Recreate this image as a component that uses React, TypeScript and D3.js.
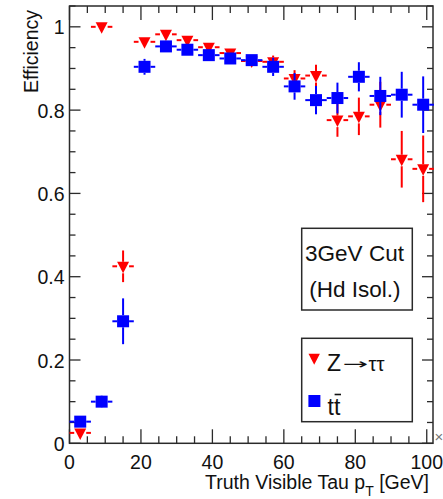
import React from "react";
import * as d3 from "d3";

const binCenters = [3, 9, 15, 21, 27, 33, 39, 45, 51, 57, 63, 69, 75, 81, 87, 93, 99];
const binHalfWidth = 3;
const zValues = [0.025, 1.0, 0.425, 0.964, 0.982, 0.968, 0.951, 0.937, 0.918, 0.916, 0.876, 0.883, 0.776, 0.785, 0.813, 0.682, 0.659];
const zErrors = [0.005, 0.0, 0.038, 0.008, 0.006, 0.008, 0.008, 0.01, 0.012, 0.015, 0.02, 0.026, 0.04, 0.045, 0.055, 0.068, 0.08];
const ttValues = [0.052, 0.1, 0.293, 0.904, 0.953, 0.945, 0.932, 0.924, 0.92, 0.904, 0.857, 0.824, 0.829, 0.88, 0.834, 0.837, 0.813];
const ttErrors = [0.008, 0.015, 0.055, 0.019, 0.012, 0.012, 0.012, 0.012, 0.014, 0.022, 0.032, 0.034, 0.037, 0.035, 0.046, 0.055, 0.068];
const xTickLabels = ["0", "20", "40", "60", "80", "100"];
const yTickLabels = ["0", "0.2", "0.4", "0.6", "0.8", "1"];
const legendTitle = ["3GeV Cut", "(Hd Isol.)"];

const W = 443;
const H = 499;
const left = 69.5, right = 433, top = 6, bottom = 443.3;
const FONT = "'Liberation Sans', Arial, Helvetica, sans-serif";
const AX = "#2a2a2a";

export default function App() {
  const x = d3.scaleLinear().domain([0, 101.75]).range([left, right]);
  const y = d3.scaleLinear().domain([0, 1.05]).range([bottom, top]);

  const xMajor = xTickLabels.map(Number);
  const xMinor = d3.range(0, 101, 5).filter((v) => !xMajor.includes(v));
  const yMajor = yTickLabels.map(Number);
  const yMinor = d3.range(0, 1.051, 0.05).map((v) => +v.toFixed(2)).filter((v) => !yMajor.includes(v));

  const sq = 6;
  const triTop = 4.5, triTip = 7, triHalf = 6;
  const triPath = (cx: number, cy: number, s = 1) =>
    `M${cx - triHalf * s},${cy - triTop * s}L${cx + triHalf * s},${cy - triTop * s}L${cx},${cy + triTip * s}Z`;

  const errBars = (vals: number[], errs: number[], color: string, gapUp: number, gapDown: number, gapX: number) =>
    binCenters.map((c, i) => {
      const cx = x(c), cy = y(vals[i]);
      const x0 = x(c - binHalfWidth), x1 = x(c + binHalfWidth);
      const yTop = y(vals[i] + errs[i]), yBot = y(vals[i] - errs[i]);
      return (
        <g key={`${color}-e-${i}`} stroke={color} strokeWidth={2}>
          {x0 < cx - gapX && <line x1={x0} x2={cx - gapX} y1={cy} y2={cy} />}
          {x1 > cx + gapX && <line x1={cx + gapX} x2={x1} y1={cy} y2={cy} />}
          {yTop < cy - gapUp && <line x1={cx} x2={cx} y1={yTop} y2={cy - gapUp} />}
          {yBot > cy + gapDown && <line x1={cx} x2={cx} y1={cy + gapDown} y2={yBot} />}
        </g>
      );
    });

  return (
    <svg width={W} height={H} style={{ position: "fixed", left: 0, top: 0, background: "#fff" }} fontFamily={FONT}>
      <rect x={0} y={0} width={W} height={H} fill="#fff" />
      {/* frame */}
      <rect x={left} y={top} width={right - left} height={bottom - top} fill="none" stroke={AX} strokeWidth={1.5} />
      {/* x ticks bottom & top */}
      {xMajor.map((v) => (
        <g key={`xM${v}`} stroke={AX} strokeWidth={1.3}>
          <line x1={x(v)} x2={x(v)} y1={bottom} y2={bottom - 14} />
          <line x1={x(v)} x2={x(v)} y1={top} y2={top + 14} />
        </g>
      ))}
      {xMinor.map((v) => (
        <g key={`xm${v}`} stroke={AX} strokeWidth={1.3}>
          <line x1={x(v)} x2={x(v)} y1={bottom} y2={bottom - 7} />
          <line x1={x(v)} x2={x(v)} y1={top} y2={top + 7} />
        </g>
      ))}
      {/* y ticks left & right */}
      {yMajor.map((v) => (
        <g key={`yM${v}`} stroke={AX} strokeWidth={1.3}>
          <line x1={left} x2={left + 11} y1={y(v)} y2={y(v)} />
          <line x1={right} x2={right - 11} y1={y(v)} y2={y(v)} />
        </g>
      ))}
      {yMinor.map((v) => (
        <g key={`ym${v}`} stroke={AX} strokeWidth={1.3}>
          <line x1={left} x2={left + 6} y1={y(v)} y2={y(v)} />
          <line x1={right} x2={right - 6} y1={y(v)} y2={y(v)} />
        </g>
      ))}
      {/* tick labels */}
      {xTickLabels.map((t) => (
        <text key={`xl${t}`} x={x(Number(t))} y={468.5} fontSize={19.5} textAnchor="middle" fill="#111">
          {t}
        </text>
      ))}
      {yTickLabels.map((t) => (
        <text key={`yl${t}`} x={64.5} y={y(Number(t)) + 7.5} fontSize={19.5} textAnchor="end" fill="#111">
          {t}
        </text>
      ))}
      {/* axis titles */}
      <text transform="translate(37.5,10) rotate(-90)" fontSize={19.5} textAnchor="end" fill="#111">
        Efficiency
      </text>
      <text x={429} y={489.3} fontSize={19.5} textAnchor="end" fill="#111">
        Truth Visible Tau p
        <tspan fontSize={14} dy={7}>T</tspan>
        <tspan dy={-7}> [GeV]</tspan>
      </text>
      <text x={439} y={442} fontSize={15} textAnchor="middle" fill="#777">×</text>

      {/* Z -> tautau (red, drawn first) */}
      {errBars(zValues, zErrors, "#ff0000", triTop, triTip, triHalf)}
      {binCenters.map((c, i) => (
        <path key={`zm${i}`} d={triPath(x(c), y(zValues[i]))} fill="#ff0000" />
      ))}
      {/* ttbar (blue) */}
      {errBars(ttValues, ttErrors, "#0000ff", sq, sq, sq)}
      {binCenters.map((c, i) => (
        <rect key={`tm${i}`} x={x(c) - sq} y={y(ttValues[i]) - sq} width={2 * sq} height={2 * sq} fill="#0000ff" />
      ))}

      {/* legend box 1 */}
      <rect x={301.7} y={228.3} width={110.6} height={81.7} fill="#fff" stroke={AX} strokeWidth={1.5} />
      <text x={354.5} y={261} fontSize={22.5} textAnchor="middle" fill="#111">{legendTitle[0]}</text>
      <text x={354.8} y={297} fontSize={22.5} textAnchor="middle" fill="#111">{legendTitle[1]}</text>

      {/* legend box 2 */}
      <rect x={301.7} y={338.3} width={110.6} height={83.4} fill="#fff" stroke={AX} strokeWidth={1.5} />
      <path d={triPath(314.2, 358, 0.95)} fill="#ff0000" />
      <text x={327} y={370.5} fontSize={23} fill="#111">Z</text>
      <text x={342.5} y={368.5} fontSize={15} fill="#111" fontFamily="'DejaVu Sans', sans-serif"
        textLength={25.5} lengthAdjust="spacingAndGlyphs">→</text>
      <text x={368.5} y={370.5} fontSize={21} fill="#111"
        textLength={16} lengthAdjust="spacingAndGlyphs">ττ</text>
      <rect x={308.4} y={395} width={12} height={12} fill="#0000ff" />
      <text x={327.5} y={415} fontSize={23} fill="#111">tt</text>
      <line x1={334.6} x2={341} y1={394.5} y2={394.5} stroke="#111" strokeWidth={1.6} />
    </svg>
  );
}
